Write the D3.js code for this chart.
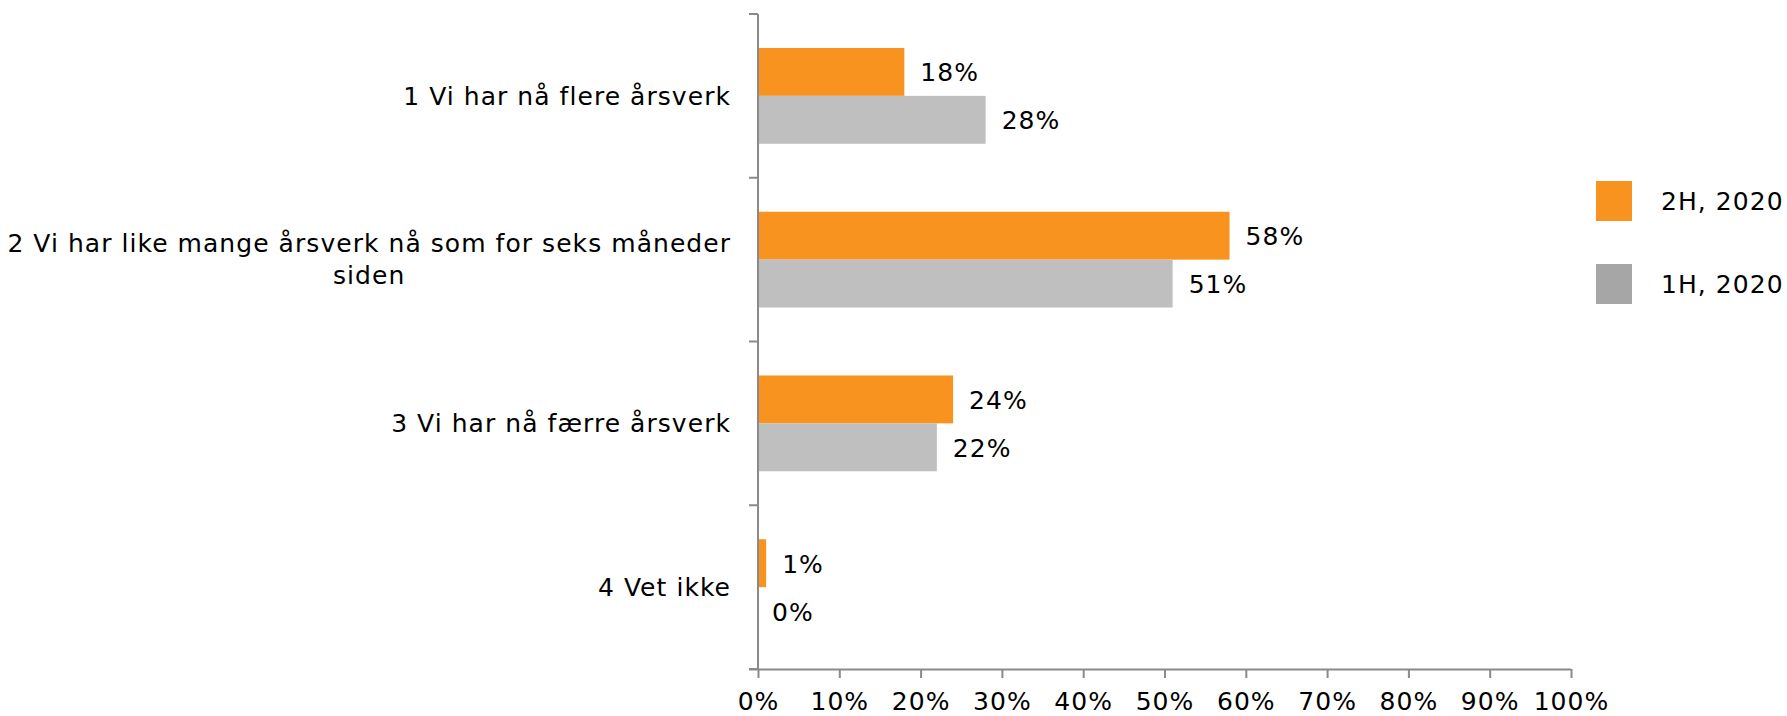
<!DOCTYPE html>
<html><head><meta charset="utf-8">
<script src="https://cdn.jsdelivr.net/npm/d3@7"></script>
<style>body{margin:0;background:#fff}svg{display:block;font-family:"DejaVu Sans",Verdana,sans-serif}text{letter-spacing:1.05px}</style>
</head><body><svg id="c" width="1787" height="716"></svg>
<script>
const categories = [
  ["1 Vi har nå flere årsverk"],
  ["2 Vi har like mange årsverk nå som for seks måneder", "siden"],
  ["3 Vi har nå færre årsverk"],
  ["4 Vet ikke"]
];
const seriesNames = ["2H, 2020", "1H, 2020"];
const values2H = [18, 58, 24, 1];
const values1H = [28, 51, 22, 0];
const xTicks = [0,10,20,30,40,50,60,70,80,90,100];
const barColors = ["#F7931E", "#BFBFBF"];
const legendColors = ["#F7931E", "#A6A6A6"];

const svg = d3.select("#c");
const FS = 25;
const mLeft = 758, mRight = 1571, mTop = 14, mBottom = 669;
const x = d3.scaleLinear().domain([0,100]).range([mLeft,mRight]);
const y = d3.scaleBand().domain(d3.range(categories.length)).range([mTop,mBottom]).paddingInner(0.415).paddingOuter(0.2075);
const sub = d3.scaleBand().domain([0,1]).range([0,y.bandwidth()]);
const axisColor = "#8a8a8a";

const series = [values2H, values1H];
series.forEach((vals, s) => {
  svg.append("g").selectAll("rect").data(vals).join("rect")
    .attr("x", mLeft).attr("y", (d,i)=>y(i)+sub(s))
    .attr("width", d=>x(d)-mLeft).attr("height", sub.bandwidth())
    .attr("fill", barColors[s]);
  svg.append("g").selectAll("text").data(vals).join("text")
    .attr("x", d=>x(d)+ (d===0?14:16)).attr("y", (d,i)=>y(i)+sub(s)+sub.bandwidth()/2)
    .attr("dy","0.38em").attr("font-size",FS).attr("fill","#000")
    .text(d=>d+"%");
});

// x axis
const xa = svg.append("g").attr("transform",`translate(0,${mBottom})`)
  .call(d3.axisBottom(x).tickValues(xTicks).tickFormat(d=>d+"%").tickSize(9).tickSizeOuter(0));
xa.select(".domain").attr("stroke",axisColor).attr("stroke-width",2).attr("d",`M${mLeft-9},0.5H${mRight}`);
xa.selectAll(".tick line").attr("stroke",axisColor).attr("stroke-width",2);
xa.selectAll(".tick text").attr("font-size",FS).attr("fill","#000").attr("y",23).attr("dy","0.71em")
  .attr("font-family",'"DejaVu Sans",Verdana,sans-serif');

// y axis
const yEdges = d3.range(categories.length+1).map(i=>mTop+i*(mBottom-mTop)/categories.length);
svg.append("line").attr("x1",mLeft).attr("x2",mLeft).attr("y1",mTop).attr("y2",mBottom).attr("stroke",axisColor).attr("stroke-width",2);
svg.append("g").selectAll("line").data(yEdges).join("line")
  .attr("x1",mLeft-9).attr("x2",mLeft).attr("y1",d=>d).attr("y2",d=>d)
  .attr("stroke",axisColor).attr("stroke-width",2);

// category labels
const labelRight = 731;
categories.forEach((lines,i)=>{
  const cy = y(i)+y.bandwidth()/2;
  const g = svg.append("g");
  const lh = 32;
  const texts = lines.map((t,k)=> g.append("text").attr("font-size",FS).attr("fill","#000")
     .attr("y", cy + (k-(lines.length-1)/2)*lh).attr("dy","0.35em").text(t));
  const widths = texts.map(t=>t.node().getComputedTextLength());
  const maxW = d3.max(widths);
  const cx = labelRight - maxW/2;
  texts.forEach(t=>t.attr("x",cx).attr("text-anchor","middle"));
});

// legend
seriesNames.forEach((n,s)=>{
  const ly = 181 + s*83;
  svg.append("rect").attr("x",1596).attr("y",ly).attr("width",36).attr("height",40).attr("fill",legendColors[s]);
  svg.append("text").attr("x",1661).attr("y",ly+20).attr("dy","0.35em").attr("font-size",FS).attr("fill","#000").text(n);
});
</script></body></html>
